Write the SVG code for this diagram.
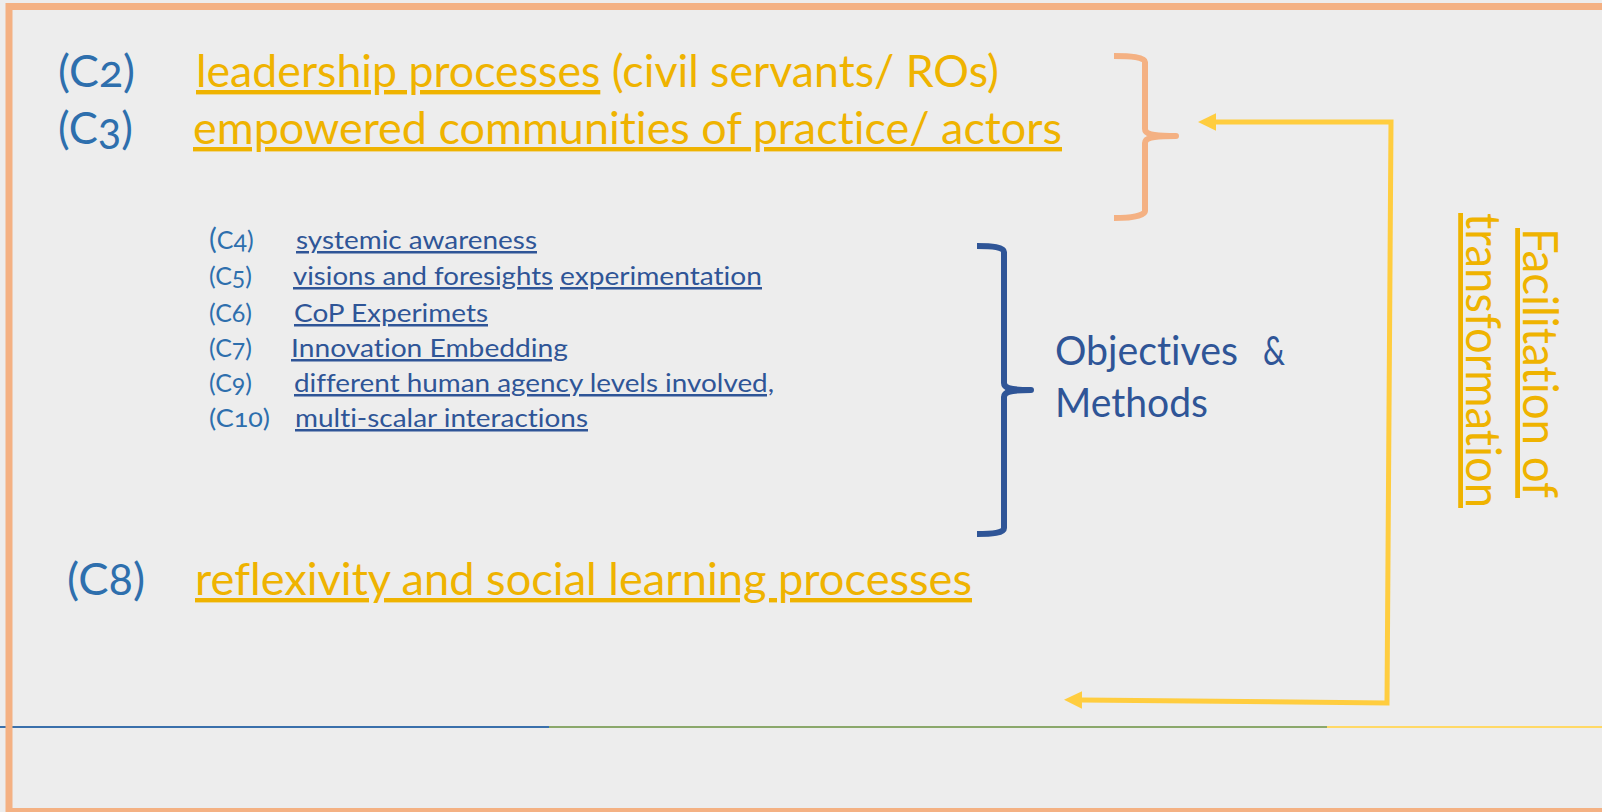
<svg xmlns="http://www.w3.org/2000/svg" width="1602" height="812" viewBox="0 0 1602 812">
<style>
text{font-family:Lato,"Open Sans","Liberation Sans",sans-serif;font-variant-numeric:oldstyle-nums;font-variant-ligatures:none;font-feature-settings:"liga" 0,"clig" 0,"onum" 1}
.big{font-size:44px}
.sm{font-size:25px}
.code{fill:#2E6FAD}
.gold{fill:#EFB300}
.navy{fill:#2F5597}
.ul{text-decoration:underline}
.brace{fill:none;stroke-width:6;stroke-linejoin:round}
.conn{fill:none;stroke:#FFCD3F;stroke-width:5;stroke-linejoin:miter}
.vert{font-size:48px}
.obj{font-size:40px}
</style>
<defs>
<marker id="ah" markerUnits="userSpaceOnUse" markerWidth="20" markerHeight="20" viewBox="0 -10 20 20" refX="0" refY="0" orient="auto-start-reverse"><path d="M0,-8.7 L18,0 L0,8.7 z" fill="#FFCD3F"/></marker>
</defs>
<rect width="1602" height="812" fill="#EDEDED"/>
<g id="footer-line">
<line x1="0" y1="727" x2="549" y2="727" stroke="#3A70AB" stroke-width="2"/>
<line x1="549" y1="727" x2="1327" y2="727" stroke="#8BA86B" stroke-width="2"/>
<line x1="1327" y1="727" x2="1602" y2="727" stroke="#FFD966" stroke-width="2"/>
</g>
<g id="c2">
<text class="big code" x="58" y="87" textLength="77" lengthAdjust="spacingAndGlyphs">(C2)</text>
<text class="big gold" x="196" y="87" textLength="803" lengthAdjust="spacingAndGlyphs"><tspan class="ul">leadership processes</tspan> (civil servants/ ROs)</text>
</g>
<g id="c3">
<text class="big code" x="58" y="144" textLength="75" lengthAdjust="spacingAndGlyphs">(C3)</text>
<text class="big gold ul" x="193" y="144" textLength="869" lengthAdjust="spacingAndGlyphs">empowered communities of practice/ actors</text>
</g>
<g id="brace-orange">
<path class="brace" stroke="#F4B183" d="M1114 56 C1130 56 1145 57 1145 62 V129 C1145 134 1152 136 1176 136 C1152 136 1145 138 1145 143 V211 C1145 216 1130 218 1114 218"/>
</g>
<g id="c4">
<text class="sm code" x="209" y="249"><tspan font-size="29">(</tspan>C4)</text>
<text class="sm navy ul" x="296" y="249" textLength="241" lengthAdjust="spacingAndGlyphs">systemic awareness</text>
</g>
<g id="c5">
<text class="sm code" x="209" y="285">(C5)</text>
<text class="sm navy ul" x="293" y="285" textLength="260" lengthAdjust="spacingAndGlyphs">visions and foresights</text>
<text class="sm navy ul" x="560" y="285" textLength="202" lengthAdjust="spacingAndGlyphs">experimentation</text>
</g>
<g id="c6">
<text class="sm code" x="209" y="322">(C6)</text>
<text class="sm navy ul" x="294" y="322" textLength="194" lengthAdjust="spacingAndGlyphs">CoP Experimets</text>
</g>
<g id="c7">
<text class="sm code" x="209" y="357">(C7)</text>
<text class="sm navy ul" x="291" y="357" textLength="277" lengthAdjust="spacingAndGlyphs">Innovation Embedding</text>
</g>
<g id="c9">
<text class="sm code" x="209" y="392">(C9)</text>
<text class="sm navy ul" x="294" y="392" textLength="480" lengthAdjust="spacingAndGlyphs">different human agency levels involved,</text>
</g>
<g id="c10">
<text class="sm code" x="209" y="427" textLength="61" lengthAdjust="spacingAndGlyphs">(C10)</text>
<text class="sm navy ul" x="295" y="427" textLength="293" lengthAdjust="spacingAndGlyphs">multi-scalar interactions</text>
</g>
<g id="brace-blue">
<path class="brace" stroke="#2F5597" d="M977 246 C992 246 1004 247 1004 252 V383 C1004 388 1010 390 1031 390 C1010 390 1004 392 1004 397 V528 C1004 533 992 534 977 534"/>
</g>
<g id="objectives">
<text class="obj navy" x="1055" y="365"><tspan textLength="183" lengthAdjust="spacingAndGlyphs">Objectives</tspan><tspan x="1263" textLength="22" lengthAdjust="spacingAndGlyphs">&amp;</tspan></text>
<text class="obj navy" x="1055" y="417" textLength="153" lengthAdjust="spacingAndGlyphs">Methods</text>
</g>
<g id="c8">
<text class="big code" x="67" y="595" textLength="78" lengthAdjust="spacingAndGlyphs">(C8)</text>
<text class="big gold ul" x="195" y="595" textLength="777" lengthAdjust="spacingAndGlyphs">reflexivity and social learning processes</text>
</g>
<g id="facilitation">
<text class="vert gold ul" transform="translate(1523,228) rotate(90)" x="0" y="0" textLength="270" lengthAdjust="spacingAndGlyphs">Facilitation of</text>
<text class="vert gold ul" transform="translate(1466,213) rotate(90)" x="0" y="0" textLength="295" lengthAdjust="spacingAndGlyphs">transformation</text>
</g>
<g id="connectors">
<path class="conn" d="M1216 122 H1391 L1387 703 L1082 700" marker-start="url(#ah)" marker-end="url(#ah)"/>
</g>
<rect id="frame" x="9" y="6.5" width="1700" height="805" fill="none" stroke="#F4B183" stroke-width="7"/>
</svg>
